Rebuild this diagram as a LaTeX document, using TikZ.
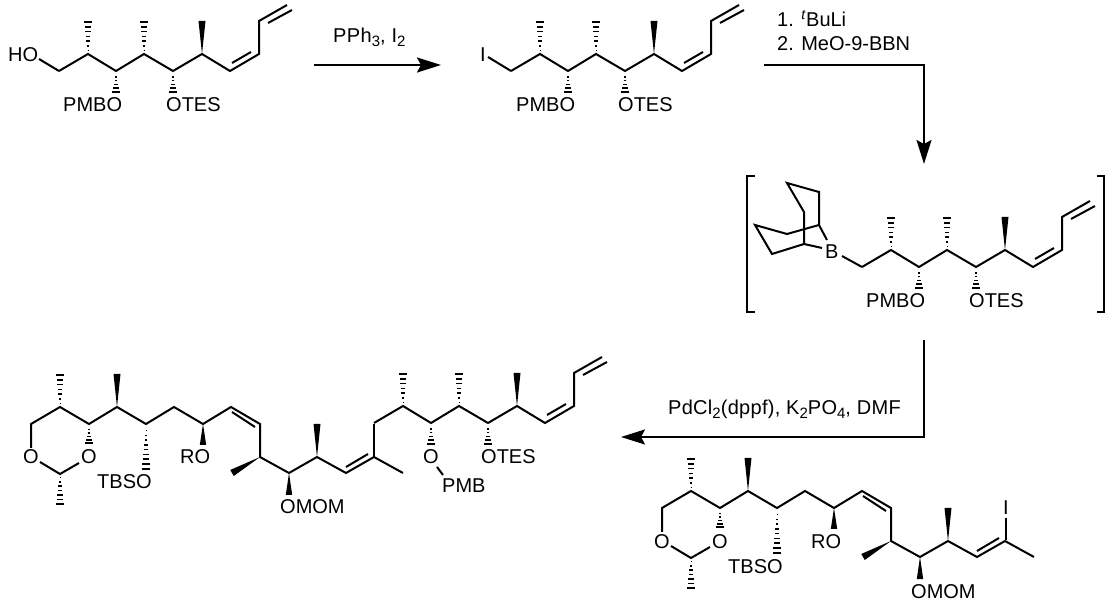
\documentclass[tikz,border=0pt]{standalone}
\usepackage{fontspec}
\setmainfont{Liberation Sans}
\usepackage{tikz}
\usetikzlibrary{calc}
\usetikzlibrary{arrows.meta}
\tikzset{
    bond/.style={line width=2pt, line join=miter},
    rxnarrow/.style={line width=2.2pt, -{Stealth[length=24pt,width=15pt,inset=4pt]}},
    labl/.style={anchor=base west, inner sep=0pt, font=\fontsize{20}{24}\selectfont},
}
\newcommand{\wedgeb}[5]{\fill ( #1 , #2 ) -- ($( #3 , #4 )!#5!90:( #1 , #2 )$) -- ($( #3 , #4 )!#5!-90:( #1 , #2 )$) -- cycle;}
\newcommand{\hashb}[5]{\foreach \i in {1,...,#5} {\pgfmathsetmacro{\t}{(\i-0.25)/#5} \pgfmathsetmacro{\w}{\t*4.2} \draw[line width=1.6pt] ($( #1 , #2 )!\t!( #3 , #4 )!\w pt!90:( #3 , #4 )$) -- ($( #1 , #2 )!\t!( #3 , #4 )!\w pt!-90:( #3 , #4 )$);}}
\newcommand{\lablnode}[4]{\node[labl] (#1) at ( #2 , #3 ) {#4};}
\newcommand{\subn}[1]{\raisebox{-3.5pt}{\fontsize{15}{15}\selectfont #1}}
% tail: CH2 to the diene, with OTES
\newcommand{\tailchain}[3]{
    \begin{scope}[shift={(#2,#3)}]
        \draw[bond] (59,71) -- (88,54) -- (116,71) -- (144,54) -- (173,71) -- (202,54) -- (230,71) -- (259,54) -- (259,21) -- (287,5);
        \draw[bond] (232,63) -- (251,52);
        \draw[bond] (268,23) -- (292,10);
        \hashb{88}{54}{88}{21}{7}
        \hashb{144}{54}{144}{21}{7}
        \wedgeb{202}{54}{202}{21}{3.5pt}
        \hashb{116}{74}{116}{93}{5}
        \hashb{173}{74}{173}{93}{5}
        \lablnode{#1otes}{166}{112}{OTES}
    \end{scope}
}
% head: dioxane ring to the trisubstituted alkene
\newcommand{\headchain}[3]{
    \begin{scope}[shift={(#2,#3)}]
        \draw[bond] (31,448) -- (31,424) -- (60,407) -- (89,424) -- (117,407) -- (146,424) -- (174,407) -- (203,424) -- (231,407) -- (260,424) -- (260,457) -- (289,473) -- (317,457) -- (346,473) -- (374,457) -- (403,473);
        \draw[bond] (40,462) -- (60,474) -- (79,463);
        \draw[bond] (232,412) -- (255,427);
        \draw[bond] (346,467) -- (368,454);
        \hashb{60}{407}{60}{374}{7}
        \hashb{60}{474}{60}{505}{7}
        \hashb{89}{427}{89}{444}{5}
        \hashb{146}{427}{146}{470}{9}
        \wedgeb{117}{407}{117}{374}{3.5pt}
        \wedgeb{203}{424}{203}{445}{3.2pt}
        \wedgeb{260}{457}{232}{473}{3.5pt}
        \wedgeb{289}{473}{289}{495}{3.2pt}
        \wedgeb{317}{457}{317}{424}{3.5pt}
        \lablnode{#1oa}{23}{464}{O}
        \lablnode{#1ob}{81}{464}{O}
        \lablnode{#1tbso}{97}{489}{TBSO}
        \lablnode{#1ro}{180}{464}{RO}
        \lablnode{#1omom}{280}{514}{OMOM}
    \end{scope}
}

\begin{document}
\begin{tikzpicture}[x=1pt,y=-1pt]
    \useasboundingbox (0,0) rectangle (1112,601);
    % alcohol
    \tailchain{alc}{0}{0}
    \draw[bond] (39,59) -- (59,71);
    \lablnode{alcho}{8}{62}{HO}
    \lablnode{alcpmbo}{63}{112}{PMBO}
    % iodide
    \tailchain{iod}{452}{0}
    \draw[bond] (488,57) -- (511,71);
    \lablnode{iodi}{480}{62}{I}
    \lablnode{iodpmbo}{516}{112}{PMBO}
    % borane
    \tailchain{bor}{803}{196}
    \draw[bond] (842,256) -- (862,267);
    \draw[bond] (827,240) -- (819,225) -- (819,192) -- (787,183) -- (804,212) -- (804,244) -- (822,248);
    \draw[bond] (819,225) -- (787,234) -- (755,225) -- (772,254) -- (804,244);
    \lablnode{borb}{825}{259}{B}
    \lablnode{borpmbo}{866}{308}{PMBO}
    \draw[bond] (755,176) -- (747,176) -- (747,312) -- (755,312);
    \draw[bond] (1097,176) -- (1104,176) -- (1104,312) -- (1097,312);
    % coupled product
    \headchain{cpl}{0}{0}
    \tailchain{cpl}{315}{352}
    \draw[bond] (374,457) -- (374,424);
    \lablnode{cplo}{423}{464}{O}
    \draw[bond] (437,467) -- (443,475);
    \lablnode{cplpmb}{442}{493}{PMB}
    % vinyl iodide
    \headchain{vin}{631}{84}
    \draw[bond] (1006,540) -- (1006,518);
    \lablnode{vini}{1003}{515}{I}
    % arrows
    \coordinate (ra) at (314,65);
    \coordinate (rb) at (441,65);
    \draw[rxnarrow] (ra) -- (rb);
    \lablnode{ppha}{333}{43}{\addfontfeatures{LetterSpace=2}PPh\subn{3}, I\subn{2}}
    \coordinate (rc) at (764,65);
    \coordinate (rd) at (924,164);
    \draw[rxnarrow] (rc) -| (rd);
    \lablnode{tbuli}{777}{27}{1. \textsuperscript{\textit{t}}BuLi}
    \lablnode{meobbn}{777}{51}{2. MeO-9-BBN}
    \coordinate (re) at (924,340);
    \coordinate (rf) at (621,437);
    \draw[rxnarrow] (re) |- (rf);
    \lablnode{pdcl}{668}{415}{\addfontfeatures{LetterSpace=1.5}PdCl\subn{2}(dppf), K\subn{2}PO\subn{4}, DMF}
\end{tikzpicture}
\end{document}
